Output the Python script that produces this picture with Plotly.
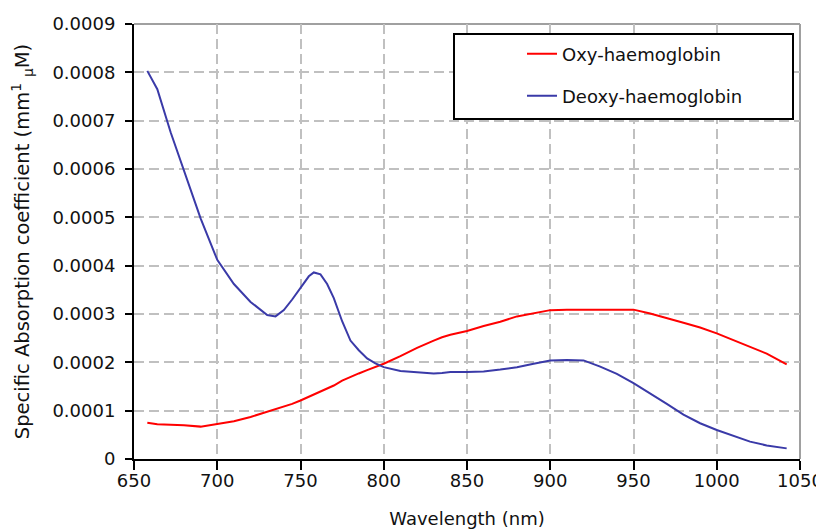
import plotly.graph_objects as go

wavelength = [658, 664, 672, 680, 690, 700, 710, 720, 730, 735, 740, 745, 750, 755, 758,
              762, 766, 770, 775, 780, 785, 790, 795, 800, 810, 820, 830, 835, 840, 850,
              860, 870, 880, 890, 900, 910, 920, 930, 940, 950, 960, 970, 980, 990, 1000,
              1010, 1020, 1030, 1042]

deoxy = [8.03e-4, 7.65e-4, 6.76e-4, 5.95e-4, 4.98e-4, 4.12e-4, 3.62e-4, 3.25e-4, 2.98e-4,
         2.95e-4, 3.08e-4, 3.30e-4, 3.55e-4, 3.78e-4, 3.86e-4, 3.82e-4, 3.62e-4, 3.33e-4,
         2.85e-4, 2.45e-4, 2.25e-4, 2.08e-4, 1.98e-4, 1.90e-4, 1.82e-4, 1.80e-4, 1.77e-4,
         1.78e-4, 1.80e-4, 1.80e-4, 1.81e-4, 1.85e-4, 1.90e-4, 1.97e-4, 2.04e-4, 2.05e-4,
         2.04e-4, 1.91e-4, 1.76e-4, 1.57e-4, 1.36e-4, 1.14e-4, 0.92e-4, 0.74e-4, 0.60e-4,
         0.48e-4, 0.36e-4, 0.28e-4, 0.22e-4]

oxy = [0.75e-4, 0.72e-4, 0.71e-4, 0.70e-4, 0.67e-4, 0.72e-4, 0.78e-4, 0.87e-4, 0.98e-4,
       1.03e-4, 1.08e-4, 1.14e-4, 1.21e-4, 1.29e-4, 1.33e-4, 1.39e-4, 1.45e-4, 1.52e-4,
       1.62e-4, 1.70e-4, 1.77e-4, 1.84e-4, 1.90e-4, 1.97e-4, 2.13e-4, 2.30e-4, 2.45e-4,
       2.52e-4, 2.57e-4, 2.65e-4, 2.75e-4, 2.84e-4, 2.95e-4, 3.02e-4, 3.08e-4, 3.09e-4,
       3.09e-4, 3.09e-4, 3.09e-4, 3.09e-4, 3.01e-4, 2.92e-4, 2.82e-4, 2.72e-4, 2.60e-4,
       2.46e-4, 2.32e-4, 2.18e-4, 1.96e-4]

y_ticks = [0, 0.0001, 0.0002, 0.0003, 0.0004, 0.0005, 0.0006, 0.0007, 0.0008, 0.0009]
y_tick_labels = ["0", "0.0001", "0.0002", "0.0003", "0.0004", "0.0005", "0.0006",
                 "0.0007", "0.0008", "0.0009"]
x_ticks = [650, 700, 750, 800, 850, 900, 950, 1000, 1050]

FONT = "DejaVu Sans"
TXT = "#111111"

fig = go.Figure()
fig.add_trace(go.Scatter(x=wavelength, y=oxy, mode="lines", name="Oxy-haemoglobin",
                         line=dict(color="#ff0000", width=2), legend="legend"))
fig.add_trace(go.Scatter(x=wavelength, y=deoxy, mode="lines", name="Deoxy-haemoglobin",
                         line=dict(color="#3a3aa8", width=2), legend="legend2"))

W, H = 824, 529
OFF = 8  # page body margin
L, R, T, B = 134, 800, 24, 459  # plot area in page pixels

def px2x(p):
    return (p - L) / (R - L)

def px2y(p):
    return (B - p) / (B - T)

fig.update_layout(
    width=W, height=H,
    margin=dict(l=L - OFF, r=W - R + OFF, t=T - OFF, b=H - B + OFF, autoexpand=False),
    paper_bgcolor="white", plot_bgcolor="white",
    font=dict(family=FONT, size=18, color=TXT),
    showlegend=True,
    legend=dict(x=px2x(522), y=px2y(54), xanchor="left", yanchor="middle",
                bgcolor="rgba(0,0,0,0)", borderwidth=0, font=dict(size=18, color=TXT)),
    legend2=dict(x=px2x(522), y=px2y(96), xanchor="left", yanchor="middle",
                 bgcolor="rgba(0,0,0,0)", borderwidth=0, font=dict(size=18, color=TXT)),
    xaxis=dict(
        range=[650, 1050], tickvals=x_ticks, ticks="outside", ticklen=9, tickwidth=2,
        tickcolor="black", showline=True, linecolor="black", linewidth=2,
        showgrid=True, gridcolor="#c0c0c0", gridwidth=2, griddash="10px,5px",
        zeroline=False, automargin=True, ticklabelstandoff=-5,
        title=dict(text="Wavelength (nm)", font=dict(size=18, color=TXT), standoff=23),
        tickfont=dict(size=18, color=TXT),
    ),
    yaxis=dict(
        range=[0, 0.0009], tickvals=y_ticks, ticktext=y_tick_labels, ticks="outside",
        ticklen=7, tickwidth=2, tickcolor="black", showline=True, linecolor="black",
        linewidth=2, showgrid=True, gridcolor="#c0c0c0", gridwidth=2,
        griddash="10px,5px", zeroline=False, automargin=True, ticklabelstandoff=6,
        title=dict(text="Specific Absorption coefficient (mm<sup>1</sup> <sub>µ</sub>M)",
                   font=dict(size=19.5, color=TXT), standoff=21),
        tickfont=dict(size=18, color=TXT),
    ),
    shapes=[
        dict(type="line", xref="paper", yref="paper", x0=0, x1=1, y0=1, y1=1,
             line=dict(color="#a0a0a0", width=2), layer="below"),
        dict(type="line", xref="paper", yref="paper", x0=1, x1=1, y0=0, y1=1,
             line=dict(color="#a0a0a0", width=2), layer="below"),
        dict(type="rect", xref="paper", yref="paper",
             x0=px2x(454), x1=px2x(793), y0=px2y(119), y1=px2y(34),
             line=dict(color="black", width=2), fillcolor="white", layer="above"),
    ],
)

fig.write_html("out.html")
